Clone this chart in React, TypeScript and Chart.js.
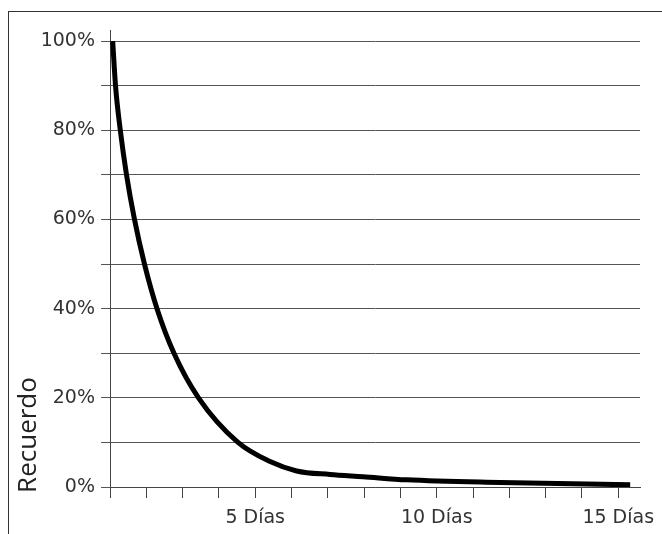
import { useEffect, useRef } from "react";
import { Chart, registerables } from "chart.js";

Chart.register(...registerables);

// Points (day, % recalled)
const DAYS = [1.074, 1.152, 1.284, 1.455, 1.675, 1.95, 2.295, 2.763, 3.438, 4.526, 5.41, 6.14, 7.06, 7.97, 9.17, 11.74, 15.33];
const RECALL = [100, 90, 80, 70, 60, 50, 40, 30, 20, 10, 5.7, 3.6, 2.8, 2.3, 1.6, 1.0, 0.5];

// Axis ticks and labels
const X_TICK_DAYS = [1, 2, 3, 4, 5, 6, 7, 8, 9, 10, 11, 12, 13, 14, 15];
const X_LABEL_DAYS = [5, 10, 15];
const X_LABELS = ["5 Días", "10 Días", "15 Días"];
const Y_GRID_VALUES = [0, 10, 20, 30, 40, 50, 60, 70, 80, 90, 100];
const Y_LABEL_VALUES = [0, 20, 40, 60, 80, 100];
const Y_LABELS = ["0%", "20%", "40%", "60%", "80%", "100%"];
const Y_TITLE = "Recuerdo";

const TICK_FONT = { family: "'DejaVu Sans', Verdana, sans-serif", size: 19 };

// Rotated axis title sitting low on the left, as in the original
const yTitlePlugin = {
  id: "yTitle",
  afterDraw(chart: Chart) {
    const { ctx } = chart;
    ctx.save();
    ctx.translate(29, 435);
    ctx.rotate(-Math.PI / 2);
    ctx.font = "26px 'Open Sans', 'Noto Sans', sans-serif";
    ctx.fillStyle = "#222";
    ctx.textAlign = "center";
    ctx.textBaseline = "middle";
    ctx.fillText(Y_TITLE, 0, 0);
    ctx.restore();
  },
};

export default function App() {
  const chartRef = useRef<HTMLCanvasElement>(null);
  const chartInstance = useRef<Chart | null>(null);

  useEffect(() => {
    if (!chartRef.current) return;
    if (chartInstance.current) chartInstance.current.destroy();

    const ctx = chartRef.current.getContext("2d");
    if (!ctx) return;

    chartInstance.current = new Chart(ctx, {
      type: "line",
      data: {
        datasets: [
          {
            data: DAYS.map((d, i) => ({ x: d, y: RECALL[i] })),
            borderColor: "#000",
            borderWidth: 5,
            pointRadius: 0,
            cubicInterpolationMode: "monotone",
            fill: false,
          },
        ],
      },
      options: {
        animation: false,
        responsive: false,
        devicePixelRatio: 1,
        layout: { padding: { left: 0, right: 22, top: 30, bottom: 0 } },
        plugins: {
          legend: { display: false },
          tooltip: { enabled: false },
        },
        scales: {
          x: {
            type: "linear",
            min: 1,
            max: 15.6,
            afterBuildTicks: (scale) => {
              scale.ticks = X_TICK_DAYS.map((value) => ({ value }));
            },
            afterFit: (scale) => {
              scale.height = 47;
              scale.paddingLeft = 0;
              scale.paddingRight = 0;
            },
            ticks: {
              autoSkip: false,
              maxRotation: 0,
              padding: 9,
              color: "#333",
              font: TICK_FONT,
              callback: (v) => {
                const i = X_LABEL_DAYS.indexOf(Number(v));
                return i >= 0 ? X_LABELS[i] : "";
              },
            },
            grid: {
              drawOnChartArea: false,
              drawTicks: true,
              tickLength: 11,
              color: "#444",
            },
            border: { color: "#444", width: 1 },
          },
          y: {
            min: 0,
            max: 102.5,
            afterBuildTicks: (scale) => {
              scale.ticks = Y_GRID_VALUES.map((value) => ({ value }));
            },
            afterFit: (scale) => {
              scale.width = 110;
            },
            ticks: {
              autoSkip: false,
              padding: 6,
              color: "#333",
              font: TICK_FONT,
              callback: (v) => {
                const i = Y_LABEL_VALUES.indexOf(Number(v));
                return i >= 0 ? Y_LABELS[i] : "";
              },
            },
            grid: {
              drawOnChartArea: true,
              drawTicks: true,
              tickLength: 9,
              color: "#555",
            },
            border: { color: "#444", width: 1 },
          },
        },
      },
      plugins: [yTitlePlugin],
    });

    return () => {
      if (chartInstance.current) {
        chartInstance.current.destroy();
        chartInstance.current = null;
      }
    };
  }, []);

  return (
    <div
      style={{
        position: "absolute",
        left: 0,
        top: 0,
        width: 662,
        height: 534,
        background: "#fff",
        overflow: "hidden",
      }}
    >
      <div
        style={{
          position: "absolute",
          left: 8,
          top: 11,
          width: 700,
          height: 600,
          borderTop: "1px solid #333",
          borderLeft: "1px solid #333",
        }}
      />
      <canvas
        ref={chartRef}
        width={662}
        height={534}
        style={{ position: "absolute", left: 0, top: 0 }}
      />
    </div>
  );
}
